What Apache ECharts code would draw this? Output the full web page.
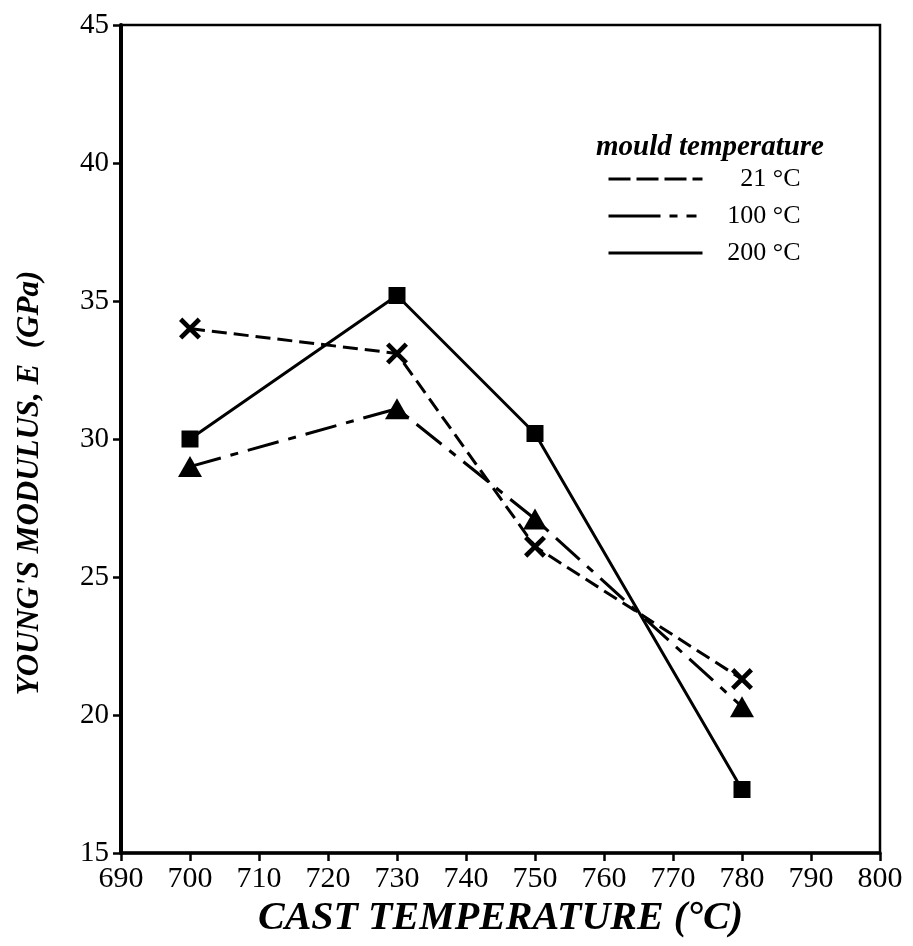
<!DOCTYPE html>
<html>
<head>
<meta charset="utf-8">
<script src="https://cdn.jsdelivr.net/npm/echarts@6/dist/echarts.min.js"></script>
<style>
html,body{margin:0;padding:0;background:#fff;}
#chart{width:913px;height:946px;}
</style>
</head>
<body>
<div id="chart"></div>
<script>
var castTemps = [700, 730, 750, 780];
var seriesNames = ['21 °C', '100 °C', '200 °C'];
var mould21 = [34.0, 33.1, 26.1, 21.3];
var mould100 = [29.0, 31.1, 27.1, 20.3];
var mould200 = [30.0, 35.2, 30.2, 17.3];
var xTicks = {min: 690, max: 800, interval: 10};
var yTicks = {min: 15, max: 45, interval: 5};

function pairs(xs, ys) { return xs.map(function (x, i) { return [x, ys[i]]; }); }

var FONT = '"Liberation Serif", "DejaVu Serif", serif';
var crossPath = 'path://M3,0 L10,7 L17,0 L20,3 L13,10 L20,17 L17,20 L10,13 L3,20 L0,17 L7,10 L0,3 Z';

var legendDash = [[22, 6], [52, 9, 8, 9, 10], 'solid'];
var legendTops = [161, 198, 235];

function makeLegend(i) {
  return {
    data: [seriesNames[i]],
    left: 602, top: legendTops[i],
    itemWidth: 94, itemHeight: 14, itemGap: 4,
    itemStyle: {opacity: 0},
    lineStyle: {type: legendDash[i], width: 3, color: '#000'},
    selectedMode: false,
    formatter: function (n) { return '{a|' + n + '}'; },
    textStyle: {
      fontFamily: FONT, fontSize: 26, color: '#000',
      rich: {a: {fontFamily: FONT, fontSize: 26, color: '#000', width: 93, align: 'right'}}
    }
  };
}

var chart = echarts.init(document.getElementById('chart'), null, {renderer: 'canvas'});
var option = {
  backgroundColor: '#fff',
  animation: false,
  grid: {left: 121, right: 33, top: 25, bottom: 93, show: true, borderColor: '#000', borderWidth: 2.5},
  title: {
    text: 'mould temperature',
    left: 591, top: 128,
    textStyle: {fontFamily: FONT, fontSize: 29, fontStyle: 'italic', fontWeight: 'bold', color: '#000'}
  },
  legend: [makeLegend(0), makeLegend(1), makeLegend(2)],
  xAxis: {
    type: 'value', min: xTicks.min, max: xTicks.max, interval: xTicks.interval,
    name: 'CAST TEMPERATURE (°C)', nameLocation: 'middle', nameGap: 41,
    nameTextStyle: {fontFamily: FONT, fontSize: 40, fontStyle: 'italic', fontWeight: 'bold', color: '#000'},
    axisLine: {lineStyle: {color: '#000', width: 3.5}},
    axisTick: {show: true, length: 8, lineStyle: {color: '#000', width: 2.5}},
    axisLabel: {fontFamily: FONT, fontSize: 30, color: '#000', margin: 11},
    splitLine: {show: false}
  },
  yAxis: {
    type: 'value', min: yTicks.min, max: yTicks.max, interval: yTicks.interval,
    name: "YOUNG'S MODULUS, E  (GPa)", nameLocation: 'middle', nameGap: 76,
    nameTextStyle: {fontFamily: FONT, fontSize: 31, fontStyle: 'italic', fontWeight: 'bold', color: '#000', padding: [0, 88, 0, 0]},
    axisLine: {lineStyle: {color: '#000', width: 4}},
    axisTick: {show: true, length: 8, lineStyle: {color: '#000', width: 2.5}},
    axisLabel: {fontFamily: FONT, fontSize: 29, color: '#000', margin: 12},
    splitLine: {show: false}
  },
  series: [
    {
      name: seriesNames[0], type: 'line', data: pairs(castTemps, mould21),
      symbol: crossPath, symbolSize: 22,
      itemStyle: {color: '#000'},
      lineStyle: {color: '#000', width: 3, type: [15, 7]}
    },
    {
      name: seriesNames[1], type: 'line', data: pairs(castTemps, mould100),
      symbol: 'triangle', symbolSize: [24, 21],
      itemStyle: {color: '#000'},
      lineStyle: {color: '#000', width: 3, type: [32, 10, 8, 10]}
    },
    {
      name: seriesNames[2], type: 'line', data: pairs(castTemps, mould200),
      symbol: 'rect', symbolSize: 17,
      itemStyle: {color: '#000'},
      lineStyle: {color: '#000', width: 3}
    }
  ]
};
chart.setOption(option);
</script>
</body>
</html>
